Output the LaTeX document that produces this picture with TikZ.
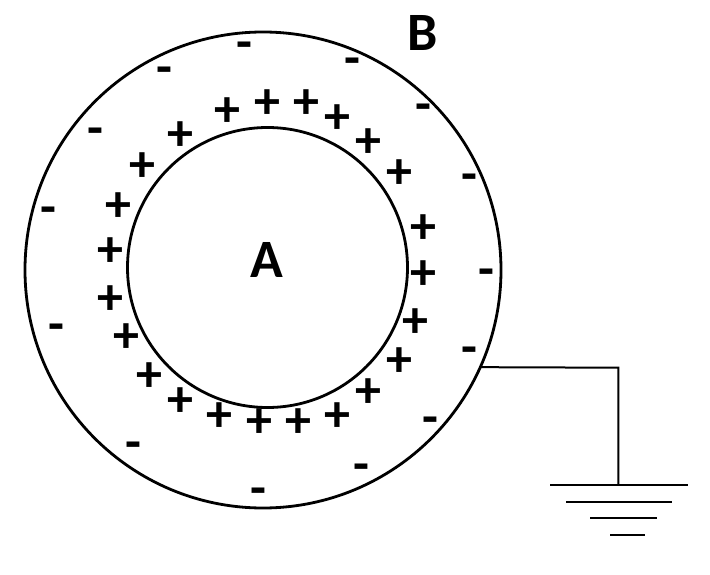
\documentclass[tikz,border=0pt]{standalone}
\usepackage{fontspec}
\setmainfont{Carlito}
\usetikzlibrary{calc}
\begin{document}
\begin{tikzpicture}[x=1pt,y=-1pt,
  shell/.style={draw=black,line width=2.8pt},
  wire/.style={draw=black,line width=2pt},
  plusch/.style={font=\bfseries\fontsize{52}{52}\selectfont,inner sep=0pt},
  minusch/.style={font=\bfseries\fontsize{52}{52}\selectfont,inner sep=0pt},
  lbl/.style={font=\bfseries\fontsize{54}{54}\selectfont,inner sep=0pt}]
\useasboundingbox (0,0) rectangle (710,575);
\coordinate (co) at (263,270);
\coordinate (ci) at (267.5,267.5);
\draw[shell] (co) circle (238);
\draw[shell] (ci) circle (140);
\node[lbl] (A) at (267,260) {A};
\node[lbl] (B) at (423,33) {B};
% plus charges
\foreach \x/\y [count=\i] in {227/112,267/104,306/104,337/119,368/143,399/174,423/229,423/275,415/323,399/362,368/393,337/417,298/423,259/423,219/417,180/402,149/377,126/338,110/300,110/252,118/207,142/167,180/136}
  \node[plusch] (p\i) at (\x,\y) {+};
% minus charges
\foreach \x/\y [count=\i] in {244/51,164/76,95/137,48/216,352/67,423/113,469/183,486/278,469/356,430/426,361/473,56/333,133/451,258/497}
  \node[minusch] (m\i) at (\x,\y) {-};
% ground
\coordinate (g0) at ($(co)+(24.1:238)$);
\coordinate (g1) at (618.3,367.7);
\coordinate (g2) at (618.3,485);
\draw[wire] (g0) -- (g1) -- (g2);
\coordinate (l1a) at (550,485); \coordinate (l1b) at (688,485);
\coordinate (l2a) at (566,502); \coordinate (l2b) at (672,502);
\coordinate (l3a) at (590,518); \coordinate (l3b) at (657,518);
\coordinate (l4a) at (610,535); \coordinate (l4b) at (645,535);
\draw[wire] (l1a) -- (l1b);
\draw[wire] (l2a) -- (l2b);
\draw[wire] (l3a) -- (l3b);
\draw[wire] (l4a) -- (l4b);
\end{tikzpicture}
\end{document}
